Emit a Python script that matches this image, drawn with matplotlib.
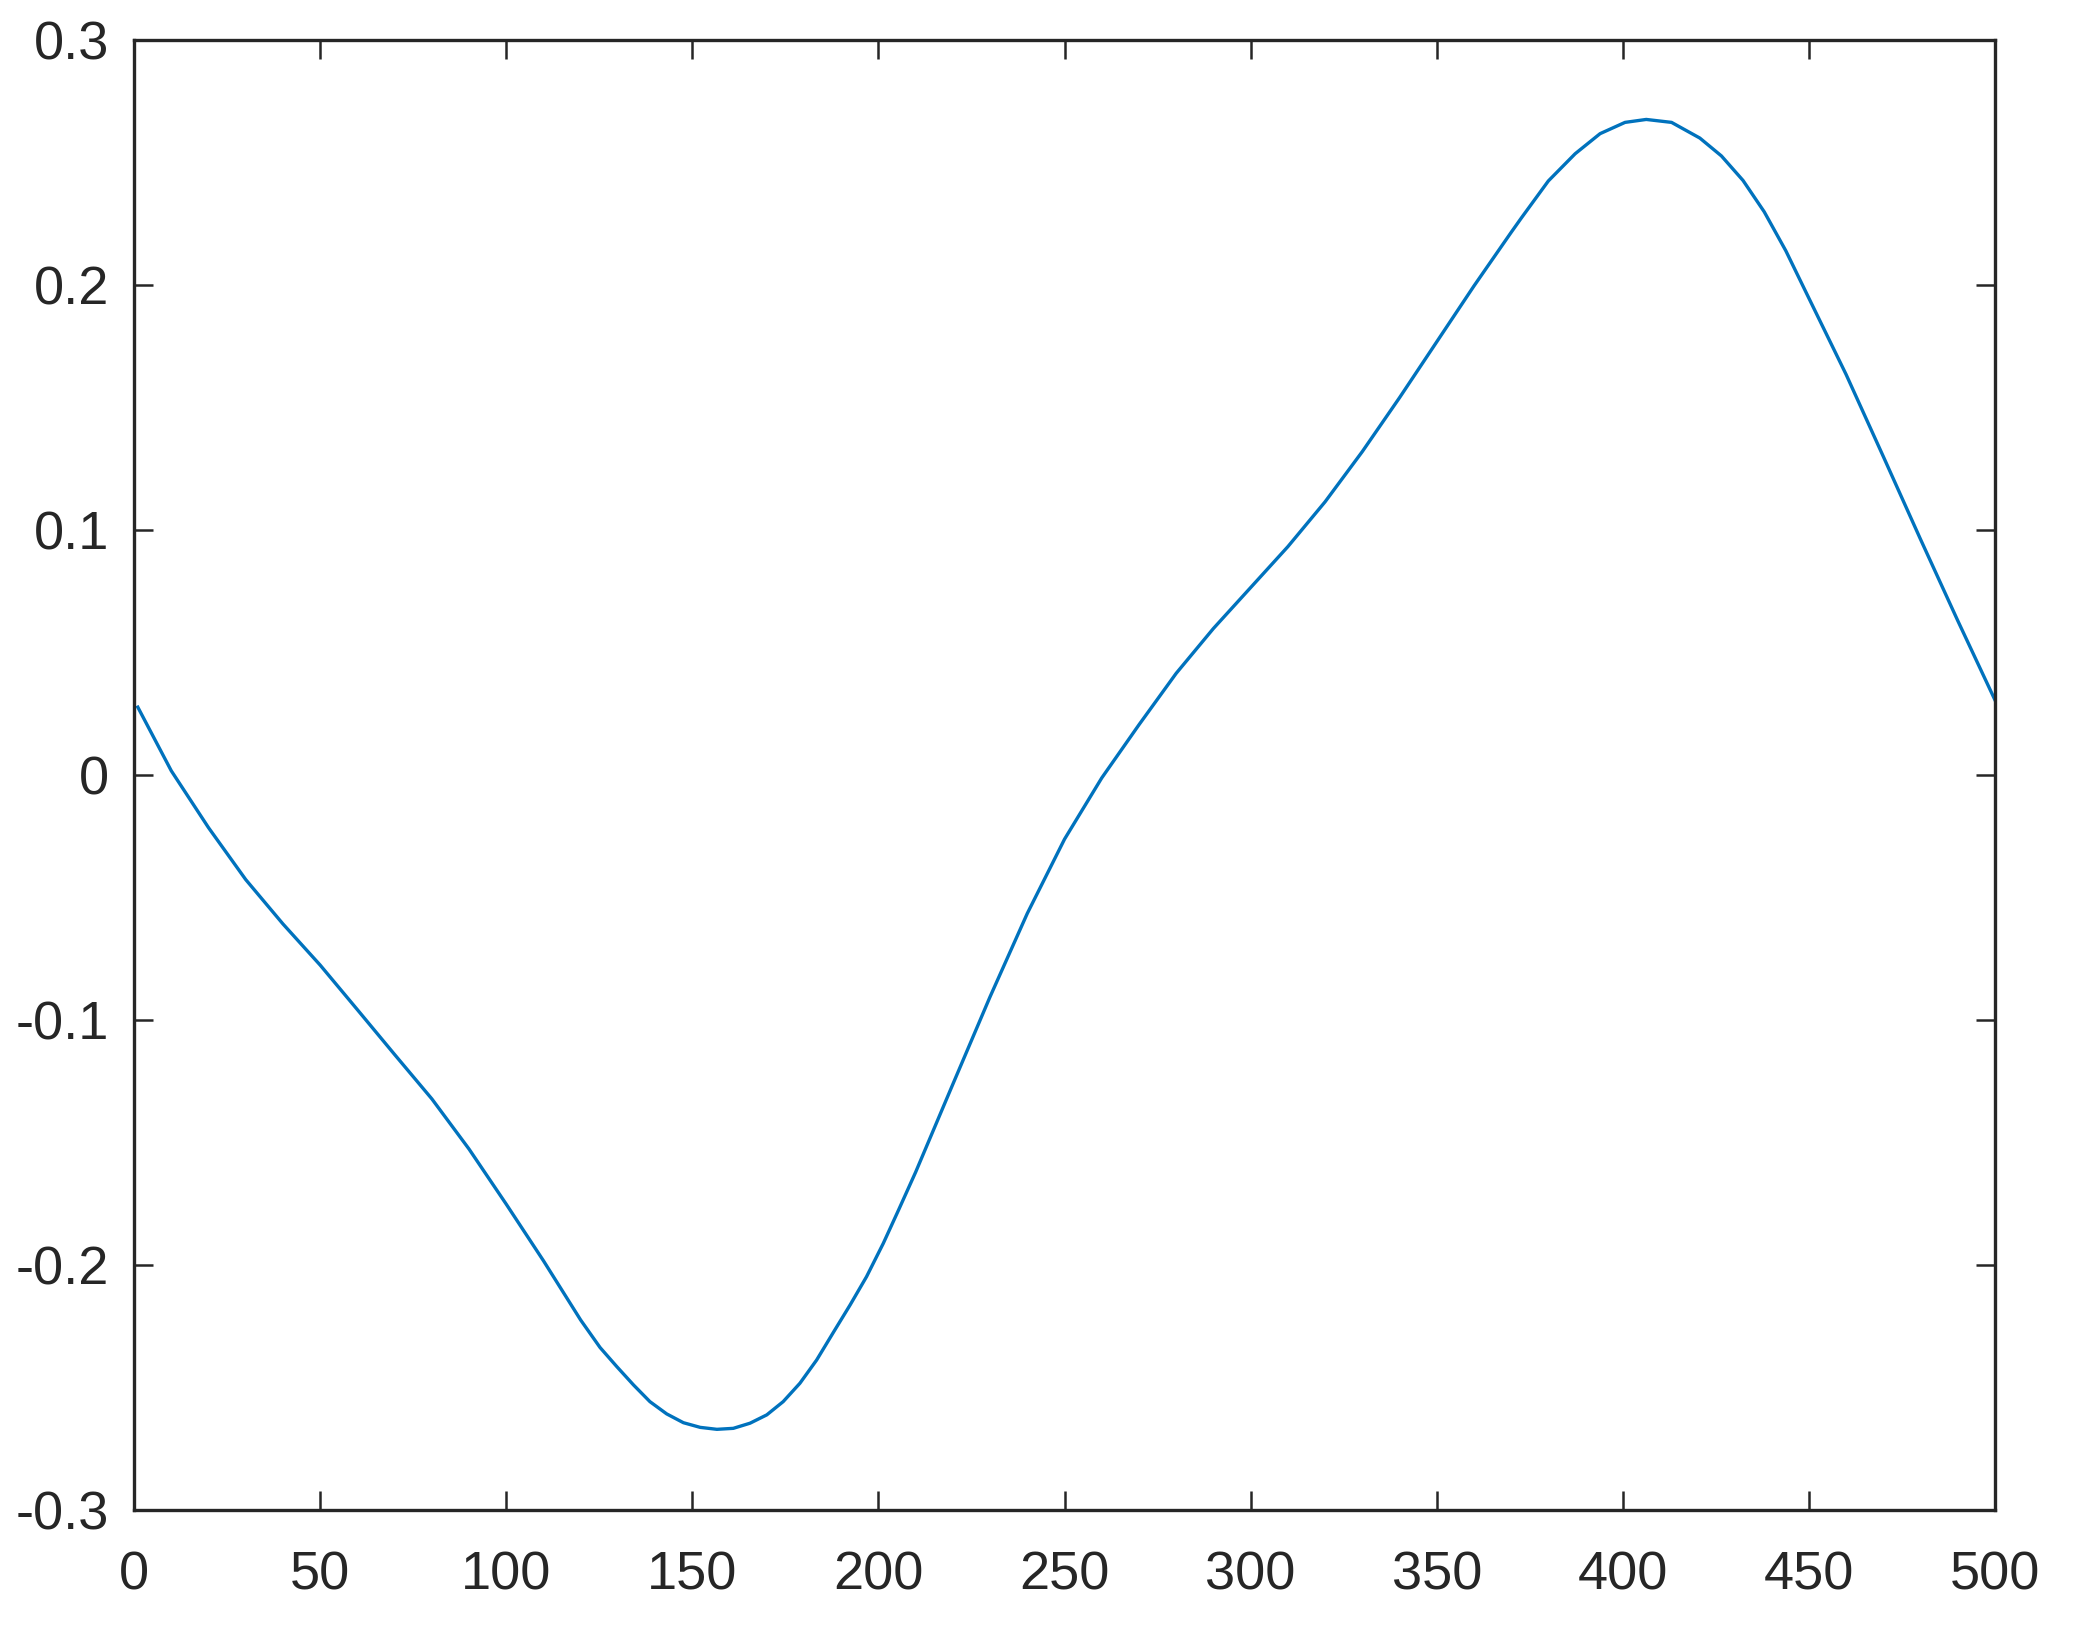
import matplotlib
matplotlib.use("Agg")
import matplotlib.pyplot as plt

plt.rcParams['font.family'] = ['Liberation Sans', 'DejaVu Sans']
plt.rcParams['axes.unicode_minus'] = False

# curve (denser where the zoom allowed it)
x = [1, 10, 20, 30, 40, 50, 60, 70, 80, 90, 100, 110, 120,
     125.2, 129.7, 134.2, 138.6, 143.1, 147.6, 152.1, 156.6, 161.0, 165.5,
     170.0, 174.4, 178.9, 183.4, 187.9, 192.4, 196.8, 201.3, 205.4,
     210, 220, 230, 240, 250, 260, 270, 280, 290, 300, 310, 320, 330, 340,
     350, 360, 370, 372.8, 380, 387.2, 393.9, 400.6, 406.3, 413.1, 420.7,
     426.5, 432.3, 438.0, 443.8, 449.5, 460, 470, 480, 490, 500]
y = [0.0277, 0.0017, -0.0215, -0.0427, -0.0608, -0.0776, -0.0958, -0.1141,
     -0.1322, -0.1527, -0.1752, -0.1983, -0.2225,
     -0.2337, -0.2415, -0.2490, -0.2558, -0.2608, -0.2644, -0.2663, -0.2671,
     -0.2667, -0.2646, -0.2612, -0.2558, -0.2483, -0.2388, -0.2275, -0.2163,
     -0.2048, -0.1912, -0.1776,
     -0.1621, -0.1262, -0.0905, -0.0565, -0.0262, -0.0012, 0.0205, 0.0415,
     0.0598, 0.0765, 0.0932, 0.1115, 0.1320, 0.1540, 0.1768, 0.1996, 0.2215,
     0.2275, 0.2425, 0.2536, 0.2618, 0.2664, 0.2676, 0.2664, 0.2600, 0.2527,
     0.2427, 0.2299, 0.2140, 0.1962, 0.1635, 0.1300, 0.0962, 0.0630, 0.0306]

xticks = [0, 50, 100, 150, 200, 250, 300, 350, 400, 450, 500]
yticks = [-0.3, -0.2, -0.1, 0, 0.1, 0.2, 0.3]
ytick_labels = ['-0.3', '-0.2', '-0.1', '0', '0.1', '0.2', '0.3']

cinza = '#262626'

fig = plt.figure(figsize=(20.82, 16.29), dpi=100)
ax = fig.add_axes([0.0644, 0.0731, 0.8938, 0.9023])

ax.plot(x, y, color='#0072BD', linewidth=2.4, solid_joinstyle='round')

ax.set_xlim(0, 500)
ax.set_ylim(-0.3, 0.3)
ax.set_xticks(xticks)
ax.set_xticklabels([str(t) for t in xticks])
ax.set_yticks(yticks)
ax.set_yticklabels(ytick_labels)

ax.tick_params(direction='in', length=14, width=1.8, color=cinza,
               labelsize=39, labelcolor=cinza, top=True, right=True)
ax.tick_params(axis='x', pad=29)
ax.tick_params(axis='y', pad=18)
for lado in ax.spines.values():
    lado.set_color(cinza)
    lado.set_linewidth(2.4)

plt.savefig('out.png', dpi=100)
